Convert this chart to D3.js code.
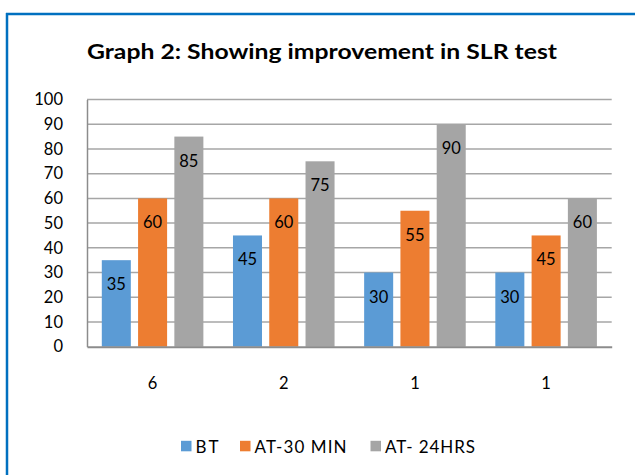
<!DOCTYPE html>
<html><head><meta charset="utf-8">
<script src="https://cdn.jsdelivr.net/npm/d3@7"></script>
<style>html,body{margin:0;padding:0;background:#fff}svg{display:block}text{font-family:Lato,"Open Sans",sans-serif;fill:#000}</style>
</head><body>
<svg id="c" width="635" height="475"></svg>
<script>
const categories = ["6", "2", "1", "1"];
const seriesNames = ["BT", "AT-30 MIN", "AT- 24HRS"];
const bt = [35, 45, 30, 30];
const at30 = [60, 60, 55, 45];
const at24 = [85, 75, 90, 60];
const yTicks = [0, 10, 20, 30, 40, 50, 60, 70, 80, 90, 100];
const colors = ["#5b9bd5", "#ed7d31", "#a5a5a5"];
const title = "Graph 2: Showing improvement in SLR test";

const series = [bt, at30, at24];
const svg = d3.select("#c");
const FONT = 'Lato,"Open Sans",sans-serif';
const FS = "16.5px";

// border (left & top)
svg.append("line").attr("x1",7).attr("x2",7).attr("y1",13).attr("y2",475).attr("stroke","#0070c0").attr("stroke-width",2.5);
svg.append("line").attr("x1",6).attr("x2",635).attr("y1",14).attr("y2",14).attr("stroke","#0070c0").attr("stroke-width",2.5);

const L = 87, R = 611.7, T = 99.5, B = 346.7;
const x0 = d3.scaleBand().domain(d3.range(categories.length)).range([L, R]).paddingInner(0).paddingOuter(0);
const bw = x0.bandwidth();
const x1 = d3.scaleBand().domain(d3.range(series.length)).range([14.8, bw - 14.8]).paddingInner(0.2).paddingOuter(0);
const y = d3.scaleLinear().domain([0, 100]).range([B, T]);

// gridlines
svg.append("g").selectAll("line").data(yTicks.filter(d => d > 0)).join("line")
  .attr("x1", L).attr("x2", R).attr("y1", d => y(d)).attr("y2", d => y(d))
  .attr("stroke", "#a6a6a6").attr("stroke-width", 1.5);

// y axis
const yAxis = d3.axisLeft(y).tickValues(yTicks).tickSize(0).tickPadding(24);
const ya = svg.append("g").attr("transform", `translate(${L},0)`).call(yAxis);
ya.select(".domain").attr("stroke", "#8c8c8c").attr("stroke-width", 1.5);
ya.selectAll("text").style("font-family", FONT).style("font-size", FS).attr("fill", "#000");

// bars
const groups = svg.append("g").selectAll("g").data(categories).join("g")
  .attr("transform", (d, i) => `translate(${x0(i)},0)`);
groups.selectAll("rect").data((d, i) => series.map((s, k) => ({k, v: s[i]}))).join("rect")
  .attr("x", d => x1(d.k)).attr("width", x1.bandwidth())
  .attr("y", d => y(d.v)).attr("height", d => y(0) - y(d.v))
  .attr("fill", d => colors[d.k]);
groups.selectAll("text.lbl").data((d, i) => series.map((s, k) => ({k, v: s[i]}))).join("text")
  .attr("class", "lbl")
  .attr("x", d => x1(d.k) + x1.bandwidth() / 2).attr("y", d => y(d.v) + 24)
  .attr("text-anchor", "middle").attr("dominant-baseline", "central")
  .style("font-size", FS).text(d => d.v);

// x axis
const xAxis = d3.axisBottom(x0).tickFormat(i => categories[i]).tickSize(0).tickPadding(31);
const xa = svg.append("g").attr("transform", `translate(0,${B})`).call(xAxis);
xa.select(".domain").attr("stroke", "#8c8c8c").attr("stroke-width", 2);
xa.selectAll("text").style("font-family", FONT).style("font-size", FS).attr("fill", "#000");

// title
const tt = svg.append("text").attr("x", 87).attr("y", 59).style("font-weight", "bold").style("font-size", "21.5px").text(title);
tt.attr("textLength", 470).attr("lengthAdjust", "spacingAndGlyphs");

// legend
const legX = [181, 240, 370.5];
const legW = [23, 92, 90];
const lg = svg.append("g").selectAll("g").data(seriesNames).join("g")
  .attr("transform", (d, i) => `translate(${legX[i]},446)`);
lg.append("rect").attr("x", 0).attr("y", -5.2).attr("width", 10.5).attr("height", 10.5).attr("fill", (d, i) => colors[i]);
lg.append("text").attr("x", 14.5).attr("y", 0).attr("dominant-baseline", "central")
  .attr("textLength", (d, i) => legW[i]).attr("lengthAdjust", "spacing")
  .style("font-size", "17px").text(d => d);
</script>
</body></html>
